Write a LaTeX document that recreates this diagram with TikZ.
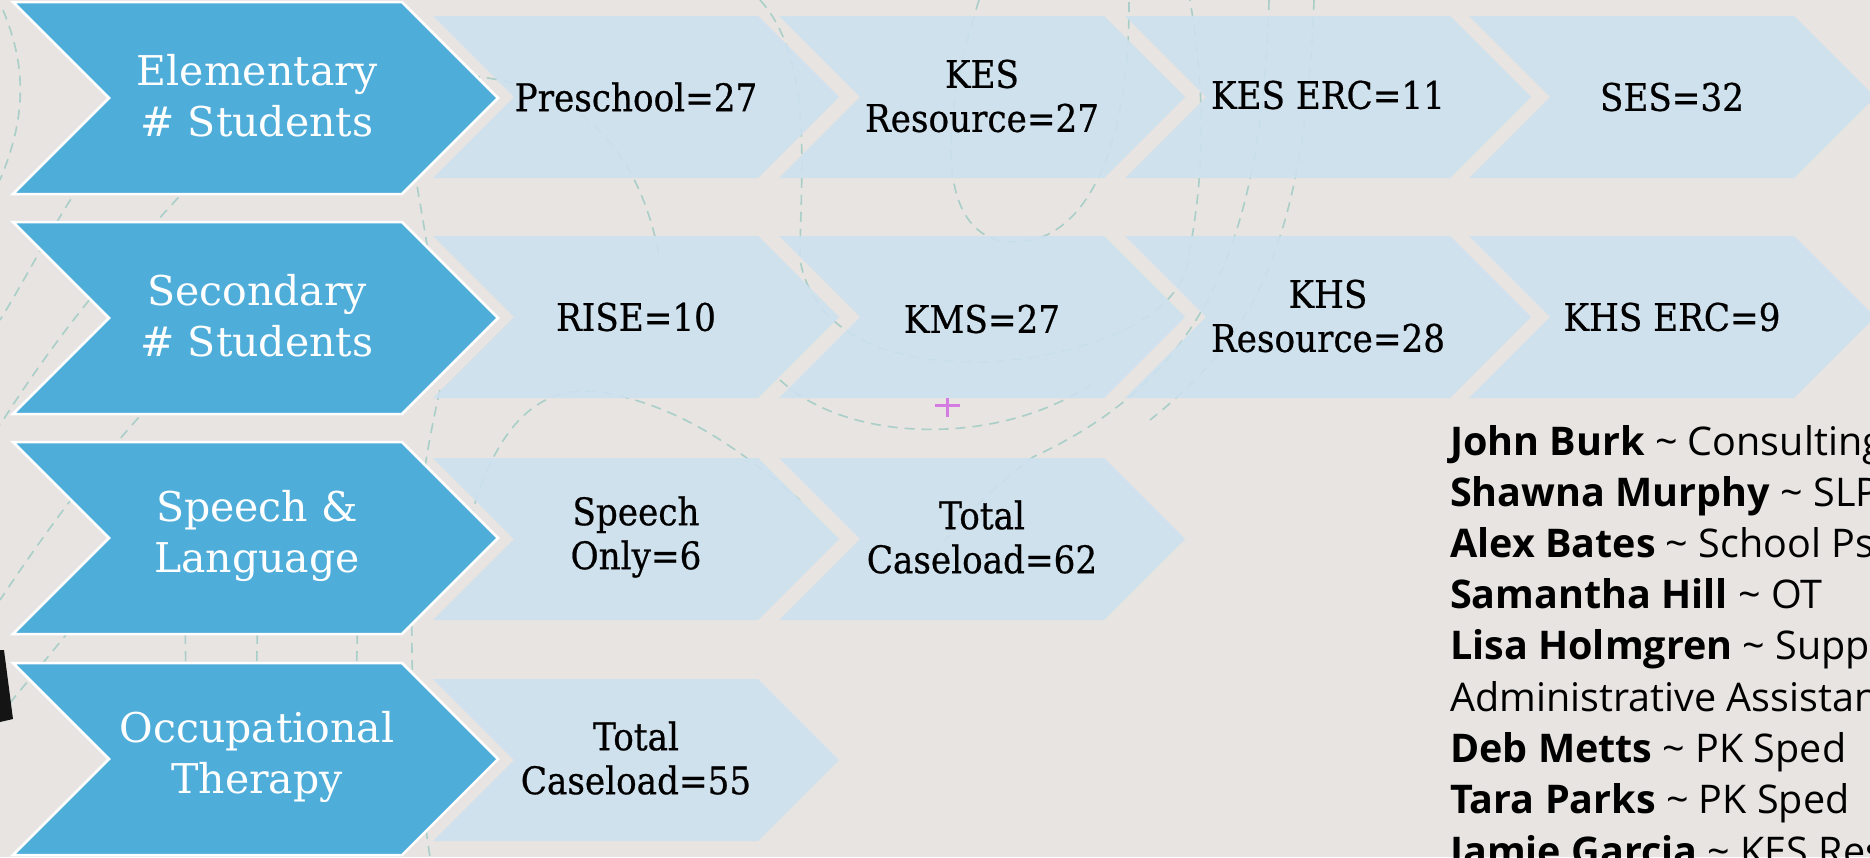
\documentclass[tikz,border=0pt]{standalone}
\usepackage{fontspec}
\setmainfont{DejaVu Serif}
\newfontfamily\cellfont{DejaVu Serif}[FakeStretch=0.9,FakeBold=0.6]
\newfontfamily\headfont{DejaVu Serif}
\newfontfamily\stafffont{Open Sans}
\definecolor{bgc}{HTML}{E7E4E1}
\definecolor{darkblue}{HTML}{4FADDA}
\definecolor{lightblue}{HTML}{CDE1F0}
\definecolor{decoteal}{HTML}{A9CFC8}
\definecolor{pinkmark}{HTML}{D47CE2}
\newcommand\chev[5]{\path[#1] (#2,#3-#5) -- ++(#4-#5,0) -- ++(#5,#5) -- ++(-#5,#5) -- ++(-#4+#5,0) -- ++(#5,-#5) -- cycle;}
\tikzset{
  darkchev/.style={fill=darkblue, draw=white, line width=2.5pt, line join=miter},
  lightchev/.style={fill=lightblue, fill opacity=0.88},
  headtext/.style={text=white, font=\headfont\fontsize{41}{51}\selectfont, align=center, inner sep=0},
  celltext/.style={text=black, font=\cellfont\fontsize{38}{44}\selectfont, align=center, inner sep=0},
  stafftext/.style={anchor=base west, font=\stafffont\fontsize{39.5}{51}\selectfont, inner sep=0},
  deco/.style={draw=decoteal, line width=1.6pt, dash pattern=on 10pt off 7pt},
}
\begin{document}
\begin{tikzpicture}[x=1pt,y=-1pt]
\useasboundingbox (0,0) rectangle (1870,857);
\fill[bgc] (0,0) rectangle (1870,857);
\clip (0,0) rectangle (1870,857);
% background decoration
\draw[deco] (3,10) .. controls (28,70) and (25,120) .. (0,180);
\draw[deco] (190,185) .. controls (120,260) and (60,330) .. (0,425);
\draw[deco] (80,185) .. controls (50,230) and (25,280) .. (0,320);
\draw[deco] (150,405) .. controls (90,470) and (40,540) .. (0,600);
\draw[deco] (70,630) -- (0,715);
\draw[deco] (440,390) .. controls (410,520) and (400,660) .. (430,857);
\draw[deco] (405,120) .. controls (420,200) and (430,260) .. (440,330);
\draw[deco] (470,76) .. controls (580,85) and (640,150) .. (660,260);
\draw[deco] (979,0) .. controls (925,170) and (955,245) .. (1017,242) .. controls (1085,240) and (1130,150) .. (1129,0);
\draw[deco] (760,0) .. controls (815,60) and (800,180) .. (800,260) .. controls (815,340) and (900,365) .. (990,362) .. controls (1090,355) and (1170,320) .. (1186,270) .. controls (1200,200) and (1210,120) .. (1190,0);
\draw[deco] (470,520) .. controls (500,410) and (550,385) .. (600,392) .. controls (680,405) and (740,450) .. (800,500);
\draw[deco] (780,380) .. controls (850,445) and (1000,445) .. (1090,385);
\draw[deco] (1269,0) .. controls (1262,250) and (1200,380) .. (1033,457) .. controls (990,490) and (960,520) .. (930,560);
\draw[deco] (1314,0) .. controls (1305,250) and (1250,340) .. (1150,420);
\draw[deco] (185,600) -- (186,700);
\draw[deco] (258,600) -- (256,700);
\draw[deco] (358,600) -- (356,700);
% dark object at left edge
\fill[black!92] (0,650) -- (4,650) -- (13,719) -- (0,722) -- cycle;
% light chevrons
\chev{lightchev}{433}{97}{406}{81}
\chev{lightchev}{779}{97}{406}{81}
\chev{lightchev}{1125}{97}{406}{81}
\chev{lightchev}{1469}{97}{406}{81}
\chev{lightchev}{433}{317}{406}{81}
\chev{lightchev}{779}{317}{406}{81}
\chev{lightchev}{1125}{317}{406}{81}
\chev{lightchev}{1469}{317}{406}{81}
\chev{lightchev}{433}{539}{406}{81}
\chev{lightchev}{779}{539}{406}{81}
\chev{lightchev}{433}{760}{406}{81}
% dark chevrons
\chev{darkchev}{13}{98}{485}{96}
\chev{darkchev}{13}{318}{485}{96}
\chev{darkchev}{13}{538}{485}{96}
\chev{darkchev}{13}{759}{485}{96}
% headings
\node[headtext] (h1) at (257,96) {Elementary\\\# Students};
\node[headtext] (h2) at (257,316) {Secondary\\\# Students};
\node[headtext] (h3) at (257,536) {Speech \&\\Language};
\node[headtext] (h4) at (257,757) {Occupational\\Therapy};
% cells
\node[celltext] (c11) at (636,97) {Preschool=27};
\node[celltext] (c12) at (982,96) {KES\\Resource=27};
\node[celltext] (c13) at (1328,95) {KES ERC=11};
\node[celltext] (c14) at (1672,97) {SES=32};
\node[celltext] (c21) at (636,317) {RISE=10};
\node[celltext] (c22) at (982,319) {KMS=27};
\node[celltext] (c23) at (1328,316) {KHS\\Resource=28};
\node[celltext] (c24) at (1672,317) {KHS ERC=9};
\node[celltext] (c31) at (636,537) {Speech\\Only=6};
\node[celltext] (c32) at (982,537) {Total\\Caseload=62};
\node[celltext] (c41) at (636,758) {Total\\Caseload=55};
% stray mark
\draw[pinkmark, line width=3pt] (935,405) -- (960,405);
\draw[pinkmark, line width=3pt] (947,398) -- (947,417);
% staff list
\node[stafftext] (s1) at (1450,455) {\textbf{John Burk} \textasciitilde{} Consulting};
\node[stafftext] (s2) at (1450,506) {\textbf{Shawna Murphy} \textasciitilde{} SLP};
\node[stafftext] (s3) at (1450,557) {\textbf{Alex Bates} \textasciitilde{} School Psych};
\node[stafftext] (s4) at (1450,608) {\textbf{Samantha Hill} \textasciitilde{} OT};
\node[stafftext] (s5) at (1450,659) {\textbf{Lisa Holmgren} \textasciitilde{} Support};
\node[stafftext] (s6) at (1450,711) {Administrative Assistant};
\node[stafftext] (s7) at (1450,762) {\textbf{Deb Metts} \textasciitilde{} PK Sped};
\node[stafftext] (s8) at (1450,813) {\textbf{Tara Parks} \textasciitilde{} PK Sped};
\node[stafftext] (s9) at (1450,865) {\textbf{Jamie Garcia} \textasciitilde{} KES Resource};
\end{tikzpicture}
\end{document}
